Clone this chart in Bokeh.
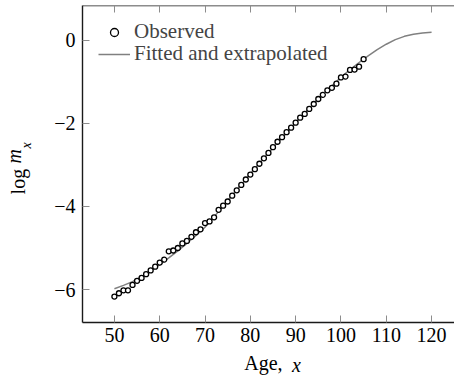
import math
from bokeh.plotting import figure
from bokeh.models import (Range1d, LinearAxis, FixedTicker, Legend, LegendItem,
                          ColumnDataSource)
from bokeh.embed import file_html
from bokeh.resources import INLINE

# ---- data ----
obs_age = list(range(50, 106))
obs_logm = [-6.17, -6.09, -6.02, -6.02, -5.89, -5.79, -5.72, -5.63, -5.54, -5.45,
            -5.35, -5.28, -5.08, -5.06, -5.00, -4.89, -4.83, -4.73, -4.62, -4.55,
            -4.40, -4.36, -4.26, -4.08, -3.98, -3.88, -3.74, -3.61, -3.48, -3.35,
            -3.23, -3.10, -2.97, -2.84, -2.71, -2.57, -2.44, -2.33, -2.21, -2.10,
            -1.98, -1.86, -1.77, -1.65, -1.53, -1.41, -1.31, -1.20, -1.14, -1.04,
            -0.89, -0.87, -0.71, -0.70, -0.63, -0.45]

fit_age = [50, 52, 54, 56, 58, 60, 62, 64, 66, 68, 70, 72, 74, 76, 78, 80, 82, 84,
           86, 88, 90, 92, 94, 96, 98, 100, 102, 104, 106, 108, 110, 112, 114, 116,
           118, 120]
fit_logm = [-5.98, -5.90, -5.81, -5.69, -5.55, -5.40, -5.24, -5.07, -4.89, -4.70,
            -4.50, -4.25, -3.99, -3.73, -3.47, -3.21, -2.96, -2.71, -2.46, -2.22,
            -1.98, -1.75, -1.52, -1.30, -1.09, -0.89, -0.70, -0.53, -0.37, -0.22,
            -0.09, 0.02, 0.10, 0.15, 0.18, 0.20]

x_ticks = [50, 60, 70, 80, 90, 100, 110, 120]
y_ticks = [0, -2, -4, -6]
y_tick_labels = {0: "0", -2: "\u22122", -4: "\u22124", -6: "\u22126"}

legend_labels = ["Observed", "Fitted and extrapolated"]
x_title = ["Age,", "x"]            # "x" in italic
y_title = ["log", "m", "x"]        # "m" italic, "x" italic subscript

FONT = "Liberation Serif"
FS = "20px"
TICK_COLOR = "#8c8c8c"
AXIS_COLOR = "#1a1a1a"

X0, X1 = 42.96, 125.06
Y0, Y1 = -6.795, 0.843

p = figure(width=454, height=378, output_backend="svg", toolbar_location=None,
           x_range=Range1d(X0, X1), y_range=Range1d(Y0, Y1),
           min_border_left=81, min_border_right=0, min_border_top=5,
           min_border_bottom=56)
p.outline_line_color = None
p.grid.visible = False
p.background_fill_color = "white"
p.border_fill_color = "white"


def style_axis(ax, ticks):
    ax.ticker = FixedTicker(ticks=ticks)
    ax.major_tick_in = 7
    ax.major_tick_out = 0
    ax.minor_tick_in = 0
    ax.minor_tick_out = 0
    ax.major_tick_line_color = TICK_COLOR
    ax.major_tick_line_width = 1
    ax.axis_line_color = AXIS_COLOR
    ax.axis_line_width = 1.4
    ax.major_label_text_font = FONT
    ax.major_label_text_font_size = FS
    ax.major_label_text_color = "black"


xa = p.xaxis[0]
style_axis(xa, x_ticks)
xa.major_label_standoff = 5

ya = p.yaxis[0]
style_axis(ya, y_ticks)
ya.major_label_standoff = 7
ya.major_label_overrides = y_tick_labels

top = LinearAxis(fixed_location=Y1)
style_axis(top, x_ticks)
top.major_label_text_color = None
p.add_layout(top, "above")


def title_piece(side, pos, text, size, standoff, style="normal",
                orientation="horizontal"):
    # an axis that only carries one piece of the axis title as its single label
    ax = LinearAxis(ticker=FixedTicker(ticks=[pos]),
                    major_label_overrides={pos: text})
    ax.major_tick_in = 0
    ax.major_tick_out = 0
    ax.minor_tick_in = 0
    ax.minor_tick_out = 0
    ax.axis_line_color = None
    ax.major_tick_line_color = None
    ax.minor_tick_line_color = None
    ax.major_label_text_font = FONT
    ax.major_label_text_font_size = size
    ax.major_label_text_font_style = style
    ax.major_label_text_color = "black"
    ax.major_label_standoff = standoff
    ax.major_label_orientation = orientation
    p.add_layout(ax, side)


# x-axis title: "Age, x"
title_piece("below", 82.9, x_title[0], FS, 7)
title_piece("below", 90.2, x_title[1], FS, -23, style="italic")
# y-axis title: "log m_x"
title_piece("left", -2.53, y_title[2], "14px", 17, style="italic",
            orientation="vertical")
title_piece("left", -3.40, y_title[0], FS, -13, orientation="vertical")
title_piece("left", -2.79, y_title[1], FS, -21, style="italic",
            orientation="vertical")

# ---- glyphs ----
fit_src = ColumnDataSource(dict(x=fit_age, y=fit_logm))
obs_src = ColumnDataSource(dict(x=obs_age, y=obs_logm))
ln = p.line("x", "y", source=fit_src, line_color="#808080", line_width=1.5)
pts = p.scatter("x", "y", source=obs_src, marker="circle", size=5,
                line_color="black", line_width=1.3, fill_color="white")


def legend_row(label, renderer, y):
    lg = Legend(items=[LegendItem(label=label, renderers=[renderer])],
                location=(16, y), margin=0, padding=0, spacing=0,
                glyph_width=32, glyph_height=20, label_height=20,
                label_standoff=4, border_line_color=None,
                background_fill_alpha=0,
                label_text_font=FONT, label_text_font_size="21px")
    p.add_layout(lg, "center")


legend_row(legend_labels[0], pts, 278)
legend_row(legend_labels[1], ln, 256)

open("out.html", "w").write(file_html(p, INLINE))
